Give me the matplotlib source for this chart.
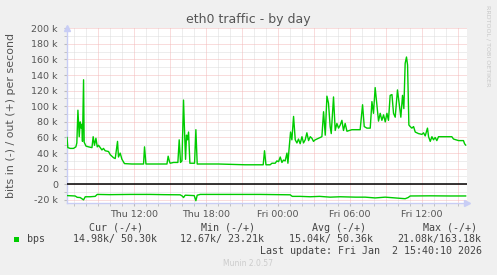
import matplotlib
matplotlib.use('Agg')
import matplotlib.pyplot as plt
import numpy as np

W, H = 497, 275

# ---- data (hours since Thu 00:00, values in kbit/s) ----
out_hours = [6.45, 6.52, 6.72, 6.99, 7.19, 7.27, 7.36, 7.47, 7.55, 7.63, 7.69, 7.74, 7.83, 7.88,
             8.03, 8.24, 8.53, 8.63, 8.74, 8.86, 8.97, 9.08, 9.22, 9.36, 9.49, 9.63, 9.91, 10.05,
             10.33, 10.47, 10.66, 10.74, 10.88, 11.03, 11.24, 11.86, 12.83, 12.91, 13.03, 13.80,
             14.78, 14.88, 14.99, 15.05, 15.33, 15.69, 15.80, 15.91, 16.03, 16.16, 16.24, 16.33,
             16.41, 16.49, 16.58, 16.69, 17.08, 17.19, 17.30, 17.97, 19.08, 20.19, 21.30, 22.13,
             22.80, 22.91, 23.03, 23.38, 23.53, 23.80, 23.94, 24.08, 24.22, 24.36, 24.49, 24.63,
             24.78, 24.86, 24.97, 25.08, 25.19, 25.33, 25.47, 25.61, 25.74, 25.88, 26.03, 26.16,
             26.30, 26.44, 26.58, 26.72, 26.86, 26.99, 27.13, 27.41, 27.69, 27.83, 27.97, 28.11,
             28.24, 28.38, 28.47, 28.66, 28.80, 28.94, 29.08, 29.22, 29.36, 29.49, 29.63, 29.78,
             30.19, 30.88, 31.08, 31.22, 31.44, 31.72, 31.86, 31.99, 32.13, 32.27, 32.41, 32.55,
             32.69, 32.83, 32.97, 33.11, 33.24, 33.38, 33.53, 33.66, 33.80, 33.99, 34.13, 34.27,
             34.41, 34.52, 34.63, 34.74, 34.83, 34.94, 35.05, 35.19, 35.33, 35.47, 35.74, 36.03,
             36.16, 36.30, 36.49, 36.58, 36.72, 36.86, 36.99, 37.13, 37.27, 37.41, 37.97, 38.52,
             38.66, 39.08, 39.49, 39.58, 39.67]
out_kbps = [60, 47, 46, 46, 48, 53, 95, 61, 80, 72, 77, 55, 134, 54,
            49, 48, 47, 61, 50, 59, 48, 50, 47, 44, 46, 43, 42, 38,
            34, 33, 55, 35, 40, 32, 26.5, 26, 26, 48, 26, 26,
            26, 36, 29, 27, 28, 28, 57, 28, 30, 108, 70, 32,
            63, 57, 67, 27, 27, 70, 26, 26, 26, 25.5, 25, 25,
            25, 43, 25, 25, 27, 27, 30, 29, 35, 28, 31, 30,
            40, 27, 48, 67, 57, 87, 57, 53, 58, 52, 61, 53,
            57, 66, 56, 61, 59, 55, 57, 59, 61, 93, 63, 113,
            104, 74, 65, 112, 69, 78, 72, 76, 82, 69, 78, 68,
            70, 70, 102, 74, 72, 72, 106, 91, 124, 102, 81, 91,
            82, 89, 80, 91, 82, 114, 115, 91, 86, 121, 104, 86,
            114, 97, 155, 163.18, 153, 76, 74, 72, 74, 67, 65, 64,
            66, 62, 72, 61, 55, 61, 57, 60, 56, 61, 61, 61,
            58, 56, 56, 52, 50.3]

in_hours = [6.45, 7.13, 7.30, 7.55, 7.83, 7.97, 8.38, 8.80, 8.97, 10.0, 11.72, 13.38, 14.5,
            15.88, 16.05, 16.16, 16.30, 17.05, 17.19, 17.30, 17.55, 19.5, 22.55, 25.05, 25.22,
            25.88, 26.72, 27.5, 28.38, 29.22, 30.5, 31.30, 32.13, 32.97, 33.80, 34.63, 34.88,
            35.05, 36.72, 38.38, 39.67]
in_kbps = [14.5, 15, 16.7, 17, 20, 16, 16, 15.5, 13, 13.3, 13, 13, 13.3,
           13.5, 15, 17, 14, 14.5, 21.08, 14, 13, 13, 13, 13.5, 15.5,
           15.5, 16, 15.5, 16.5, 16, 16.5, 16.5, 17.5, 16.5, 17.5, 18.5, 17,
           15, 14.8, 15, 14.98]

y_ticks = [-20, 0, 20, 40, 60, 80, 100, 120, 140, 160, 180, 200]
x_tick_hours = [12, 18, 24, 30, 36]
x_tick_labels = ['Thu 12:00', 'Thu 18:00', 'Fri 00:00', 'Fri 06:00', 'Fri 12:00']

legend_heads = ['Cur (-/+)', 'Min (-/+)', 'Avg (-/+)', 'Max (-/+)']
legend_vals = ['14.98k/ 50.30k', '12.67k/ 23.21k', '15.04k/ 50.36k', '21.08k/163.18k']

t0, t1 = 6.45, 6.45 + 400 / 12.0
ymin, ymax = -24, 200

GREEN = '#00CC00'
TXT = '#555555'
AXC = '#c8cdf5'


def fx(px):
    return px / W


def fy(py):
    return 1 - py / H


fig = plt.figure(figsize=(W / 100, H / 100), dpi=100, facecolor='#F0F0F0')
ax = fig.add_axes([fx(67), fy(203), 400 / W, (203 - 28.3) / H])
ax.set_facecolor('white')
ax.set_xlim(t0, t1)
ax.set_ylim(ymin, ymax)

# grid
gkw = dict(lw=0.72, ls=(0, (1, 1)))
for h in np.arange(7, 40, 1):
    if h % 3 == 0:
        continue
    ax.axvline(h, color='#dcdcdc', zorder=1, **gkw)
for v in range(-20, 201, 10):
    if v % 20 == 0:
        continue
    ax.axhline(v, color='#dcdcdc', zorder=1, **gkw)
for h in np.arange(9, 40, 3):
    ax.axvline(h, color='#f4baba', zorder=2, **gkw)
for v in y_ticks:
    ax.axhline(v, color='#f4baba', zorder=2, **gkw)

ax.axhline(0, color='black', lw=1.1, zorder=3)

ax.plot(out_hours, out_kbps, color=GREEN, lw=1.0, zorder=4)
ax.plot(in_hours, -np.array(in_kbps), color=GREEN, lw=1.0, zorder=4)

for s in ['top', 'right']:
    ax.spines[s].set_visible(False)
for s in ['left', 'bottom']:
    ax.spines[s].set_color(AXC)
    ax.spines[s].set_linewidth(1.0)

# arrows
ax.plot([0], [1.0], marker='^', ms=5, color=AXC, transform=ax.transAxes, clip_on=False, zorder=5)
ax.plot([1.0], [0], marker='>', ms=5, color=AXC, transform=ax.transAxes, clip_on=False, zorder=5)

ax.set_yticks(y_ticks)
ax.set_yticklabels([('%d k' % v) if v != 0 else '0' for v in y_ticks])
ax.set_xticks(x_tick_hours)
ax.set_xticklabels(x_tick_labels)
ax.tick_params(axis='both', which='major', length=2, width=0.8, color='#bbbbbb',
               labelcolor=TXT, labelsize=6.8)
ax.tick_params(axis='y', pad=4.5)
ax.tick_params(axis='x', pad=3.0)
ax.set_xticks(np.arange(7, 40, 1), minor=True)
ax.set_yticks(np.arange(-20, 201, 10), minor=True)
ax.tick_params(which='minor', length=2, width=0.6, color='#bbbbbb')

# texts
fig.text(fx(248.5), fy(19), 'eth0 traffic - by day', ha='center', va='center',
         fontsize=9, color=TXT, family='DejaVu Sans')
fig.text(fx(11), fy(115), 'bits in (-) / out (+) per second', rotation=90, ha='center',
         va='center', fontsize=7.9, color=TXT, family='DejaVu Sans')
fig.text(fx(488), fy(5), 'RRDTOOL / TOBI OETIKER', rotation=270, ha='center', va='top',
         fontsize=4.6, color='#c8c8c8', family='DejaVu Sans')
fig.text(fx(248), fy(264), 'Munin 2.0.57', ha='center', va='center', fontsize=5.5,
         color='#cccccc', family='DejaVu Sans')

mono = dict(family='DejaVu Sans Mono', fontsize=7.2, color='#444444', va='center')
head_x = [89, 201, 312, 423]
val_x = [73, 180, 289, 397]
for hx, t in zip(head_x, legend_heads):
    fig.text(fx(hx), fy(228), t, ha='left', **mono)
for vx, t in zip(val_x, legend_vals):
    fig.text(fx(vx), fy(239), t, ha='left', **mono)
fig.text(fx(27), fy(239), 'bps', ha='left', **mono)
fig.patches.append(plt.Rectangle((fx(14), fy(242)), 5 / W, 5 / H, transform=fig.transFigure,
                                 facecolor=GREEN, edgecolor='none', figure=fig))
fig.text(fx(482), fy(251), 'Last update: Fri Jan  2 15:40:10 2026', ha='right', **mono)

fig.savefig('out.png', dpi=100, facecolor=fig.get_facecolor())
